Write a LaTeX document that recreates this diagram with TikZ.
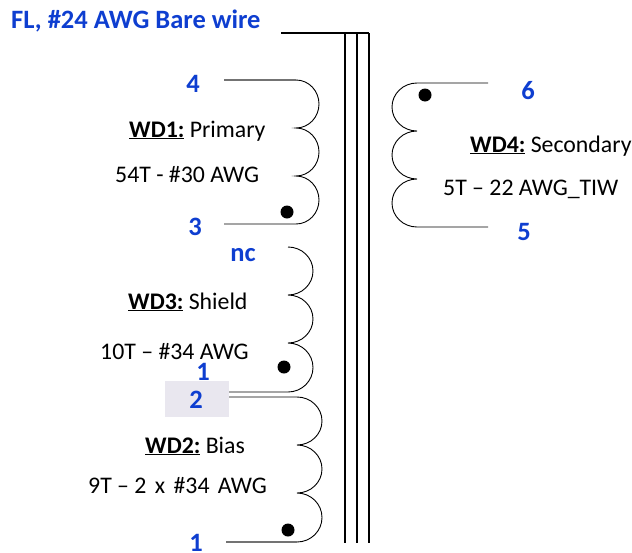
\documentclass[tikz,border=0pt]{standalone}
\usepackage{fontspec}
\setmainfont{Carlito}
\definecolor{pinblue}{RGB}{14,62,208}
\definecolor{boxgray}{RGB}{233,231,239}
\tikzset{
  pin/.style={inner sep=0pt,text=pinblue,font=\fontsize{26.5}{30}\selectfont\bfseries},
  lbl/.style={inner sep=0pt,text=black,font=\fontsize{23.8}{28}\selectfont},
  coilline/.style={draw=black,line width=0.9pt},
  leadgray/.style={draw=black!55,line width=1.5pt},
  coreline/.style={draw=black,line width=1.6pt},
  dotmark/.style={circle,fill=black,inner sep=0pt,minimum size=13pt},
  pad/.style={fill=boxgray,draw=none,inner sep=0pt,minimum width=64pt,minimum height=36pt}
}
\newcommand{\wdlabel}[2]{\underline{\textbf{#1}} #2}
\begin{document}
\begin{tikzpicture}[x=1pt,y=-1pt]
\useasboundingbox (0,0) rectangle (632,552);
% core
\coordinate (ct) at (281,33);
\coordinate (c1t) at (345,33); \coordinate (c1b) at (345,543);
\coordinate (c2t) at (357,33); \coordinate (c2b) at (357,543);
\coordinate (c3t) at (369,33); \coordinate (c3b) at (369,543);
\draw[coreline] (ct) -- (c3t);
\draw[coreline] (c1t) -- (c1b);
\draw[coreline] (c2t) -- (c2b);
\draw[coreline] (c3t) -- (c3b);
% primary
\coordinate (p4) at (224,80); \coordinate (p3) at (224,224);
\draw[leadgray] (p4) -- (296,80);
\draw[coilline] (296,80) arc[start angle=-90,end angle=90,x radius=23,y radius=24]
  arc[start angle=-90,end angle=90,x radius=23,y radius=24]
  arc[start angle=-90,end angle=90,x radius=23,y radius=24] -- (p3);
\node[dotmark] (dp) at (287,212) {};
% shield
\coordinate (s2) at (229,392);
\draw[coilline] (288,247) arc[start angle=-90,end angle=90,x radius=25,y radius=24]
  arc[start angle=-90,end angle=90,x radius=25,y radius=24]
  arc[start angle=-90,end angle=90,x radius=25,y radius=24.5] -- (s2);
\node[dotmark] (ds) at (284,367) {};
% bias
\node[pad] (padbox) at (197,399) {};
\coordinate (b2) at (229,397); \coordinate (b1) at (226,542);
\draw[coilline] (b2) -- (297,397) arc[start angle=-90,end angle=90,x radius=25,y radius=24]
  arc[start angle=-90,end angle=90,x radius=25,y radius=24]
  arc[start angle=-90,end angle=90,x radius=25,y radius=24.5];
\draw[leadgray] (297,542) -- (b1);
\node[dotmark] (db) at (288,530) {};
% secondary
\coordinate (w6) at (488,83); \coordinate (w5) at (488,227);
\draw[coilline] (w6) -- (417,83) arc[start angle=-90,end angle=-270,x radius=25,y radius=24]
  arc[start angle=-90,end angle=-270,x radius=25,y radius=24]
  arc[start angle=-90,end angle=-270,x radius=25,y radius=24] -- (w5);
\node[dotmark] (dw) at (425,95) {};
% labels
\node[pin,anchor=west] (fl) at (11,21) {FL, \#24 AWG Bare wire};
\node[pin] (n4) at (193,84) {4};
\node[pin] (n3) at (195,227) {3};
\node[pin] (nnc) at (243,255) {nc};
\node[pin] (n1a) at (203,372) {1};
\node[pin] (n2) at (196,400) {2};
\node[pin,anchor=base] (n1b) at (196,551) {1};
\node[pin] (n6) at (528,91) {6};
\node[pin] (n5) at (524,232) {5};
\node[lbl,anchor=base west] (t1) at (129,137) {\wdlabel{WD1:}{Primary}};
\node[lbl,anchor=base west] (t2) at (115,182) {54T - \#30 AWG};
\node[lbl,anchor=base west] (t3) at (128,309) {\wdlabel{WD3:}{Shield}};
\node[lbl,anchor=base west] (t4) at (100,359) {10T -- \#34 AWG};
\node[lbl,anchor=base west] (t5) at (145,453) {\wdlabel{WD2:}{Bias}};
\node[lbl,anchor=base west] (t6) at (88,493) {9T -- 2\hspace{3pt} x\hspace{3pt} \#34\hspace{3pt} AWG};
\node[lbl,anchor=base west] (t7) at (470,152) {\wdlabel{WD4:}{Secondary}};
\node[lbl,anchor=base west] (t8) at (443,195) {5T -- 22 AWG\_TIW};
\end{tikzpicture}
\end{document}
